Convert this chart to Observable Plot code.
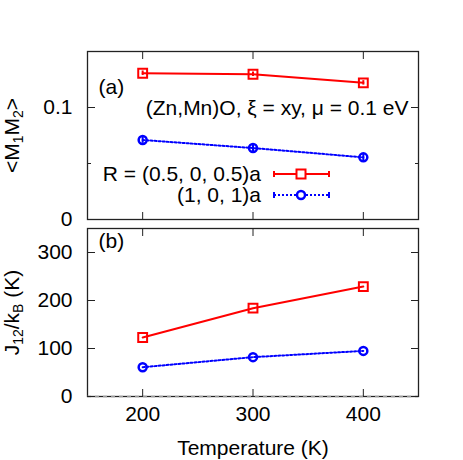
<!DOCTYPE html>
<html>
<head>
<meta charset="utf-8">
<script src="https://cdn.jsdelivr.net/npm/d3@7"></script>
<script src="https://cdn.jsdelivr.net/npm/@observablehq/plot@0.6"></script>
<style>
  html, body { margin: 0; padding: 0; background: #fff; }
  #wrap { position: relative; width: 463px; height: 460px; overflow: hidden; font-family: "Liberation Sans", Arial, sans-serif; }
  #wrap > svg, #wrap > figure { position: absolute; left: 0; margin: 0; }
</style>
</head>
<body>
<div id="wrap"></div>
<script>
// ---- data ----
const temperatures = [200, 300, 400];
const corrRed = [0.1306, 0.1297, 0.1220];      // R = (0.5, 0, 0.5)a
const corrRedErr = [0.002, 0.002, 0.002];
const corrBlue = [0.0710, 0.0638, 0.0555];     // R = (1, 0, 1)a
const corrBlueErr = [0.003, 0.003, 0.003];
const jRed = [123, 184, 229];
const jBlue = [61, 82, 95];
const xTicks = [200, 300, 400];
const topMajorTicks = [0, 0.1];
const topMinorTicks = [0.05];
const bottomTicks = [0, 100, 200, 300];
const seriesNames = ["R = (0.5, 0, 0.5)a", "(1, 0, 1)a"];
const RED = "#ff0000", BLUE = "#0000ff";

const topData = temperatures.flatMap((t, i) => [
  {t, v: corrRed[i], e: corrRedErr[i], s: "red"},
  {t, v: corrBlue[i], e: corrBlueErr[i], s: "blue"}
]);
const botData = temperatures.flatMap((t, i) => [
  {t, v: jRed[i], s: "red"},
  {t, v: jBlue[i], s: "blue"}
]);

const FS = 21;
const font = {fontFamily: "Liberation Sans, Arial, sans-serif", fontSize: FS + "px", color: "#000", background: "transparent", overflow: "visible"};
const W = 463, ML = 87, MR = 45;
const frameColor = "#222";
const DOTS = "2,2";

function frameAxes(yMajor, yMinor, showXLabels) {
  const m = [];
  m.push(Plot.axisY(yMajor, {anchor: "left", tickSize: 8, inset: 8, tickPadding: 15, tickFormat: d => String(d), label: null, stroke: frameColor}));
  m.push(Plot.axisY(yMajor, {anchor: "right", tickSize: 8, inset: 8, tickFormat: () => "", label: null, stroke: frameColor}));
  if (yMinor.length) {
    m.push(Plot.axisY(yMinor, {anchor: "left", tickSize: 4, inset: 4, tickFormat: () => "", label: null, stroke: frameColor}));
    m.push(Plot.axisY(yMinor, {anchor: "right", tickSize: 4, inset: 4, tickFormat: () => "", label: null, stroke: frameColor}));
  }
  m.push(Plot.axisX(xTicks, {anchor: "top", tickSize: 7, inset: 7, tickFormat: () => "", label: null, stroke: frameColor}));
  m.push(Plot.axisX(xTicks, {anchor: "bottom", tickSize: 7, inset: 7, tickPadding: 10, tickFormat: showXLabels ? (d => String(d)) : (() => ""), label: null, stroke: frameColor}));
  return m;
}

function seriesMarks(data, withErr) {
  const red = data.filter(d => d.s === "red"), blue = data.filter(d => d.s === "blue");
  const m = [];
  m.push(Plot.line(blue, {x: "t", y: "v", stroke: BLUE, strokeWidth: 2, strokeDasharray: DOTS}));
  m.push(Plot.line(red, {x: "t", y: "v", stroke: RED, strokeWidth: 2}));
  if (withErr) {
    m.push(Plot.ruleX(blue, {x: "t", y1: d => d.v - d.e, y2: d => d.v + d.e, stroke: BLUE, strokeWidth: 2}));
    m.push(Plot.ruleX(red, {x: "t", y1: d => d.v - d.e, y2: d => d.v + d.e, stroke: RED, strokeWidth: 2}));
  }
  m.push(Plot.dot(blue, {x: "t", y: "v", r: 4, stroke: BLUE, strokeWidth: 2.5, fill: "none"}));
  m.push(Plot.dot(red, {x: "t", y: "v", r: 5, symbol: "square", stroke: RED, strokeWidth: 2, fill: "none"}));
  return m;
}

// ---- top panel ----
const topPanel = Plot.plot({
  width: W, height: 222,
  marginLeft: ML, marginRight: MR, marginTop: 51, marginBottom: 3,
  style: font,
  x: {type: "linear", domain: [150, 450]},
  y: {type: "linear", domain: [0, 0.15]},
  marks: [
    Plot.frame({stroke: frameColor, strokeWidth: 1.3}),
    ...frameAxes(topMajorTicks, topMinorTicks, false),
    ...seriesMarks(topData, true),
    Plot.text(["(a)"], {frameAnchor: "top-left", dx: 11, dy: 36, textAnchor: "start", lineAnchor: "middle", fill: "#000"}),
    Plot.text(["(Zn,Mn)O, ξ = xy, μ = 0.1 eV"], {frameAnchor: "top-right", dx: -10, dy: 57, textAnchor: "end", lineAnchor: "middle", fill: "#000"}),
    Plot.text(["<M1M2>"], {frameAnchor: "left", dx: -75, rotate: -90, textAnchor: "middle", lineAnchor: "middle", fill: "#000", className: "ylab-top"})
  ]
});
topPanel.style.top = "0px";

// ---- bottom panel ----
const bottomPanel = Plot.plot({
  width: W, height: 238,
  marginLeft: ML, marginRight: MR, marginTop: 6, marginBottom: 64,
  style: font,
  x: {type: "linear", domain: [150, 450]},
  y: {type: "linear", domain: [0, 350]},
  marks: [
    Plot.frame({stroke: frameColor, strokeWidth: 1.3}),
    Plot.ruleY([0], {stroke: "#999", strokeDasharray: "4,4", strokeWidth: 1.3}),
    ...frameAxes(bottomTicks, [], true),
    ...seriesMarks(botData, false),
    Plot.text(["(b)"], {frameAnchor: "top-left", dx: 11, dy: 13, textAnchor: "start", lineAnchor: "middle", fill: "#000"}),
    Plot.text(["Temperature (K)"], {frameAnchor: "bottom", dy: 52, textAnchor: "middle", lineAnchor: "middle", fill: "#000"}),
    Plot.text(["J12/kB (K)"], {frameAnchor: "left", dx: -75, rotate: -90, textAnchor: "middle", lineAnchor: "middle", fill: "#000", className: "ylab-bot"})
  ]
});
bottomPanel.style.top = "222px";

const wrap = document.getElementById("wrap");
wrap.appendChild(bottomPanel);
wrap.appendChild(topPanel);

// subscripts in axis labels
function subscriptLabel(svg, cls, parts) {
  const t = svg.querySelector("." + cls + " text");
  if (!t) return;
  t.textContent = "";
  for (const [s, sub] of parts) {
    const ts = document.createElementNS("http://www.w3.org/2000/svg", "tspan");
    ts.textContent = s;
    if (sub) { ts.setAttribute("baseline-shift", "-25%"); ts.setAttribute("font-size", "14"); }
    t.appendChild(ts);
  }
}
subscriptLabel(topPanel, "ylab-top", [["<M", false], ["1", true], ["M", false], ["2", true], [">", false]]);
subscriptLabel(bottomPanel, "ylab-bot", [["J", false], ["12", true], ["/k", false], ["B", true], [" (K)", false]]);

// ---- legend (overlay) ----
const NS = "http://www.w3.org/2000/svg";
const leg = document.createElementNS(NS, "svg");
leg.setAttribute("width", W); leg.setAttribute("height", 460);
leg.style.position = "absolute"; leg.style.left = "0"; leg.style.top = "0";
leg.style.fontFamily = "Liberation Sans, Arial, sans-serif"; leg.style.fontSize = FS + "px";
const legendRows = [
  {name: seriesNames[0], color: RED, dash: null, sym: "square", y: 174},
  {name: seriesNames[1], color: BLUE, dash: DOTS, sym: "circle", y: 195}
];
for (const r of legendRows) {
  const g = document.createElementNS(NS, "g");
  const txt = document.createElementNS(NS, "text");
  txt.setAttribute("x", 261); txt.setAttribute("y", r.y); txt.setAttribute("dy", "0.35em");
  txt.setAttribute("text-anchor", "end"); txt.textContent = r.name;
  g.appendChild(txt);
  const ln = document.createElementNS(NS, "line");
  ln.setAttribute("x1", 274); ln.setAttribute("x2", 329); ln.setAttribute("y1", r.y); ln.setAttribute("y2", r.y);
  ln.setAttribute("stroke", r.color); ln.setAttribute("stroke-width", 2);
  if (r.dash) ln.setAttribute("stroke-dasharray", r.dash);
  g.appendChild(ln);
  for (const cx of [274, 329]) {
    const c = document.createElementNS(NS, "line");
    c.setAttribute("x1", cx); c.setAttribute("x2", cx); c.setAttribute("y1", r.y - 3); c.setAttribute("y2", r.y + 3);
    c.setAttribute("stroke", r.color); c.setAttribute("stroke-width", 2);
    g.appendChild(c);
  }
  let s;
  if (r.sym === "square") {
    s = document.createElementNS(NS, "rect");
    s.setAttribute("x", 301 - 4.5); s.setAttribute("y", r.y - 4.5); s.setAttribute("width", 9); s.setAttribute("height", 9);
    s.setAttribute("stroke-width", 2);
  } else {
    s = document.createElementNS(NS, "circle");
    s.setAttribute("cx", 301); s.setAttribute("cy", r.y); s.setAttribute("r", 4);
    s.setAttribute("stroke-width", 2.5);
  }
  s.setAttribute("fill", "#fff"); s.setAttribute("stroke", r.color);
  g.appendChild(s);
  leg.appendChild(g);
}
wrap.appendChild(leg);
</script>
</body>
</html>
